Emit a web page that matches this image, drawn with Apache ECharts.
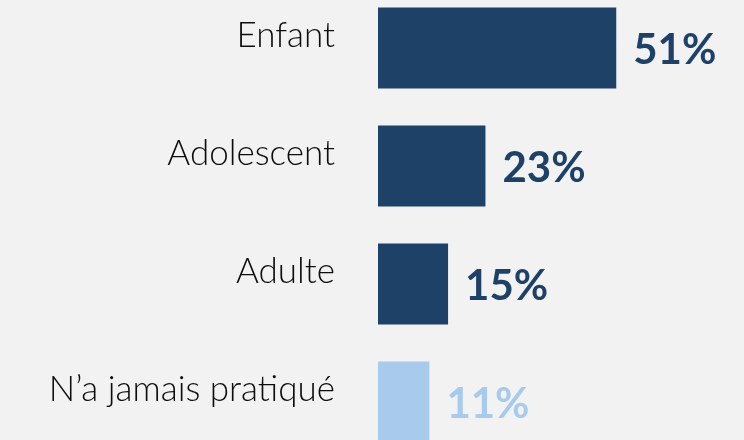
<!DOCTYPE html>
<html>
<head>
<meta charset="utf-8">
<script src="https://cdn.jsdelivr.net/npm/echarts@6/dist/echarts.min.js"></script>
<style>
  html, body { margin: 0; padding: 0; background: #f2f2f2; }
  #chart { width: 744px; height: 440px; }
</style>
</head>
<body>
<div id="chart"></div>
<script>
// Age at which the activity was practised (share of respondents)
const categories = ['Enfant', 'Adolescent', 'Adulte', 'N\u2019a jamais pratiqué'];
const values = [51, 23, 15, 11];
const barColors = ['#1e4168', '#1e4168', '#1e4168', '#a8caec'];

const chart = echarts.init(document.getElementById('chart'));
chart.setOption({
  backgroundColor: '#f2f2f2',
  animation: false,
  grid: {
    left: 378, top: -11, width: 327, height: 472,
    containLabel: false,
    outerBoundsMode: 'none'
  },
  xAxis: {
    type: 'value', min: 0, max: 70,
    show: false
  },
  yAxis: {
    type: 'category',
    inverse: true,
    data: categories,
    axisLine: { show: false },
    axisTick: { show: false },
    axisLabel: {
      margin: 43,
      fontFamily: 'Lato',
      fontSize: 35,
      fontWeight: 300,
      color: '#0d0d0d',
      verticalAlign: 'bottom',
      lineHeight: 24
    }
  },
  series: [{
    type: 'bar',
    barWidth: 81,
    data: values.map((v, i) => ({
      value: v,
      itemStyle: { color: barColors[i] },
      label: { color: barColors[i] }
    })),
    label: {
      show: true,
      position: 'right',
      distance: 17,
      offset: [0, 2],
      fontFamily: 'Lato',
      fontWeight: 'bold',
      fontSize: 42,
      formatter: p => p.value + '%'
    }
  }]
});
</script>
</body>
</html>
